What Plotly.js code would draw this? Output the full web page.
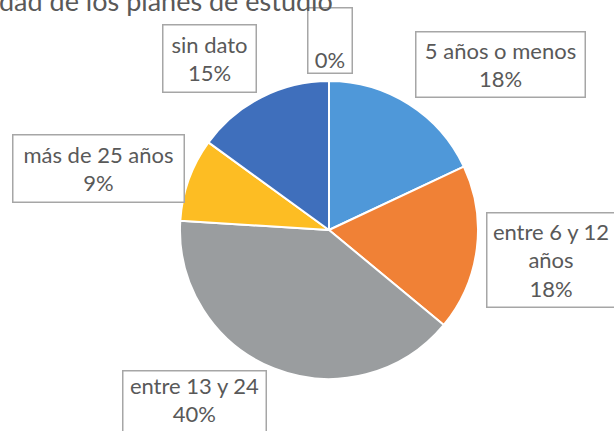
<!DOCTYPE html>
<html>
<head>
<meta charset="utf-8">
<script src="https://cdn.plot.ly/plotly-3.0.1.min.js"></script>
<style>html,body{margin:0;padding:0;background:#fff;overflow:hidden}#chart{width:614px;height:431px}</style>
</head>
<body>
<div id="chart"></div>
<script>
const categories = ["5 años o menos", "entre 6 y 12 años", "entre 13 y 24", "más de 25 años", "sin dato", ""];
const values = [18, 18, 40, 9, 15, 0];
const labelTexts = ["5 años o menos<br>18%", "entre 6 y 12<br>años<br>18%", "entre 13 y 24<br>40%", "más de 25 años<br>9%", "sin dato<br>15%", "0%"];
const colors = ["#4F98D9", "#F08136", "#9A9D9F", "#FDBD23", "#3F6FBC", "#70AD47"];
const titleText = "dad de los planes de estudio";

const W = 614, H = 431;
const cx = 329, cy = 230, r = 149;

// label box placement (pixels: center x, center y, width, height, valign)
const boxes = [
  [500, 65, 170, 66, "middle"],
  [551, 259.5, 129, 95, "middle"],
  [195, 403, 144, 66, "top"],
  [99, 168, 172, 68, "middle"],
  [209, 59, 94, 68, "middle"],
  [329.5, 40, 45, 66, "bottom"]
];

const annotations = labelTexts.map((t, i) => {
  const b = boxes[i];
  return {
    text: t, xref: "paper", yref: "paper",
    x: b[0] / W, y: 1 - b[1] / H, xanchor: "center", yanchor: "middle",
    width: b[2] - 2, height: b[3] - 2, valign: b[4], align: "center",
    showarrow: false, bgcolor: "#ffffff", bordercolor: "#A6A6A6", borderwidth: 1.5, borderpad: 0,
    font: {family: "Lato, 'Open Sans', sans-serif", size: 22, color: "#595959"}
  };
});
annotations.push({
  text: titleText, xref: "paper", yref: "paper", x: -3 / W, y: 1 - 1 / H,
  xanchor: "left", yanchor: "middle", showarrow: false,
  font: {family: "Lato, 'Open Sans', sans-serif", size: 27, color: "#595959"}
});

const data = [{
  type: "pie",
  labels: categories.map((c, i) => c || " "),
  values: values,
  sort: false,
  direction: "clockwise",
  rotation: 0,
  textinfo: "none",
  hoverinfo: "label+percent",
  marker: {colors: colors, line: {color: "#ffffff", width: 2}},
  domain: {x: [(cx - r) / W, (cx + r) / W], y: [1 - (cy + r) / H, 1 - (cy - r) / H]},
  showlegend: false
}];

const layout = {
  width: W, height: H,
  margin: {l: 0, r: 0, t: 0, b: 0},
  paper_bgcolor: "#ffffff",
  showlegend: false,
  annotations: annotations
};

Plotly.newPlot("chart", data, layout, {displayModeBar: false, staticPlot: true});
</script>
</body>
</html>
